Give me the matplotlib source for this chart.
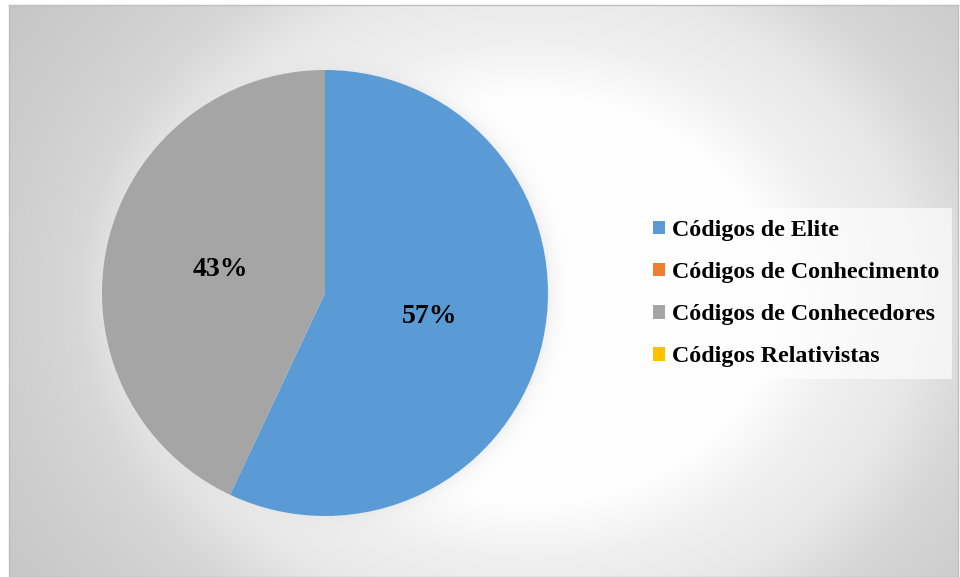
import numpy as np
import matplotlib
matplotlib.use("Agg")
import matplotlib.pyplot as plt
from matplotlib.patches import Rectangle

categories = ["Códigos de Elite", "Códigos de Conhecimento",
              "Códigos de Conhecedores", "Códigos Relativistas"]
shares = [57, 0, 43, 0]
colors = ["#5B9BD5", "#ED7D31", "#A5A5A5", "#FFC000"]

W, H, DPI = 960, 577, 100
fig = plt.figure(figsize=(W / DPI, H / DPI), dpi=DPI)
fig.patch.set_facecolor("white")

# chart frame in pixels (left, top, right, bottom)
fx0, fy0, fx1, fy1 = 9, 5, 958, 577
pie_cx, pie_cy, pie_r = 325, 293, 223

# radial background shading with a soft halo around the pie
yy, xx = np.mgrid[fy0:fy1, fx0:fx1] + 0.5
d = np.hypot((xx - 530) / 480, (yy - 300) / 400)
shade = np.interp(d, [0, 0.5, 0.65, 0.8, 0.95, 1.1, 1.35],
                  [1.0, 1.0, 0.94, 0.91, 0.84, 0.81, 0.77])
rr = np.hypot(xx - pie_cx, yy - pie_cy)
halo = np.where(rr > pie_r, 0.55 * np.exp(-(rr - pie_r) / 9.0), 0)
shade = shade * (1 - halo) + 0.89 * halo
bg = fig.add_axes([fx0 / W, 1 - fy1 / H, (fx1 - fx0) / W, (fy1 - fy0) / H])
bg.imshow(np.dstack([shade] * 3), aspect="auto", interpolation="bilinear",
          extent=[0, 1, 0, 1])
bg.set_xticks([]); bg.set_yticks([])
for s in bg.spines.values():
    s.set_color("#BFBFBF")
    s.set_linewidth(1.0)

# pie
ax = fig.add_axes([(pie_cx - pie_r) / W, 1 - (pie_cy + pie_r) / H,
                   2 * pie_r / W, 2 * pie_r / H])
ax.set_facecolor("none")
wedges, _, autotexts = ax.pie(
    shares, colors=colors, startangle=90, counterclock=False,
    autopct=lambda p: f"{p:.0f}%" if p > 0 else "", pctdistance=0.48,
    radius=1.0, wedgeprops=dict(linewidth=0),
    textprops=dict(family="Liberation Serif", fontweight="bold",
                   fontsize=20, color="black"))
ax.set_xlim(-1, 1); ax.set_ylim(-1, 1)
ax.set_aspect("equal")
ax.axis("off")

# legend
handles = [Rectangle((0, 0), 1, 1, facecolor=c, edgecolor="none") for c in colors]
leg = fig.legend(handles, categories, loc="upper left",
                 bbox_to_anchor=(641 / W, 1 - 208 / H), borderaxespad=0,
                 prop=dict(family="Liberation Serif", weight="bold", size=17.3),
                 handlelength=0.5, handleheight=0.5, handletextpad=0.3,
                 labelspacing=0.88, borderpad=0.5, frameon=True, fancybox=False)
frame = leg.get_frame()
frame.set_facecolor("white")
frame.set_alpha(0.65)
frame.set_edgecolor("none")

fig.savefig("out.png", dpi=DPI)
